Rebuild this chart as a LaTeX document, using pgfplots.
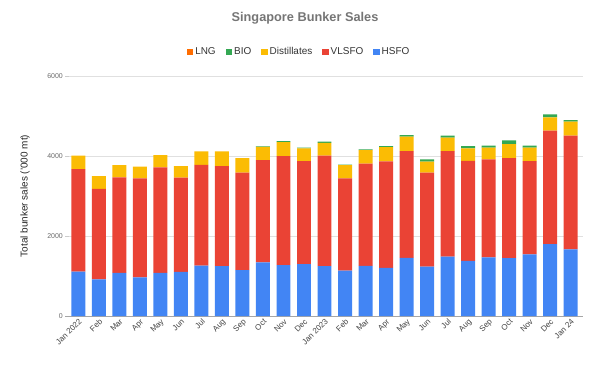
\documentclass[border=0pt]{standalone}
\usepackage{pgfplots}
\pgfplotsset{compat=1.18}
\usepackage{pgfplotstable}
\usepackage{fontspec}
\setmainfont{Liberation Sans}
\definecolor{cHSFO}{HTML}{4285F4}
\definecolor{cVLSFO}{HTML}{EA4335}
\definecolor{cDist}{HTML}{FBBC04}
\definecolor{cBIO}{HTML}{34A853}
\definecolor{cLNG}{HTML}{FF6D01}
\definecolor{ctitle}{HTML}{757575}
\definecolor{ctick}{HTML}{444444}

\pgfplotstableread{
x HSFO VLSFO Dist BIO LNG
0 1110 2560 340 0 0
1 915 2265 320 0 0
2 1080 2387 308 0 0
3 965 2475 293 0 0
4 1080 2637 308 0 0
5 1105 2353 292 0 0
6 1258 2522 335 0 0
7 1250 2500 365 0 0
8 1150 2433 367 0 0
9 1340 2560 330 8 0
10 1275 2725 350 20 0
11 1300 2575 315 20 0
12 1250 2758 322 28 0
13 1135 2307 328 13 0
14 1255 2555 340 17 0
15 1205 2660 355 30 0
16 1455 2670 358 42 0
17 1233 2350 275 59 0
18 1483 2642 333 50 0
19 1380 2500 312 58 0
20 1467 2450 291 50 0
21 1450 2500 350 92 0
22 1540 2330 338 50 0
23 1800 2833 334 75 0
24 1665 2843 350 42 0
}\data

\begin{document}
\begin{tikzpicture}[x=1bp,y=1bp]
\useasboundingbox (0,0) rectangle (605,374);
\node[font=\bfseries\fontsize{12.8}{15}\selectfont, text=ctitle] at (305,356) {Singapore Bunker Sales};
\begin{axis}[
  at={(65bp,58bp)}, anchor=south west,
  width=518bp, height=240bp, scale only axis,
  ybar stacked, bar width=0.68,
  xmin=-0.65, xmax=24.6, ymin=0, ymax=6000,
  ytick={0,2000,4000,6000},
  xtick={0,...,24},
  xticklabels={Jan 2022,Feb,Mar,Apr,May,Jun,Jul,Aug,Sep,Oct,Nov,Dec,Jan 2023,Feb,Mar,Apr,May,Jun,Jul,Aug,Sep,Oct,Nov,Dec,Jan 24},
  ymajorgrids, grid style={draw=black!12, line width=0.6bp},
  axis x line*=bottom, axis y line*=left,
  y axis line style={draw=none},
  x axis line style={draw=black!35, line width=0.8bp},
  xtick style={draw=none},
  ytick style={draw=black!20}, major tick length=4bp,
  /pgf/number format/assume math mode=true,
  /pgf/number format/1000 sep={},
  yticklabel style={font=\fontsize{7}{8}\selectfont, text=ctick!80, inner sep=2bp},
  xticklabel style={font=\fontsize{8}{9}\selectfont, text=ctick, rotate=45, anchor=north east, inner sep=1.5bp},
  ylabel={Total bunker sales ('000 mt)},
  ylabel style={at={(axis description cs:-0.077,0.5)}, anchor=center, font=\fontsize{10}{12}\selectfont, text=black!85},
  reverse legend,
  legend columns=5,
  legend style={at={(axis description cs:0.452,1.1)}, anchor=center, draw=none, fill=none,
    font=\fontsize{10}{11}\selectfont, text=black!80,
    /tikz/every even column/.append style={column sep=8bp}},
  legend image code/.code={\fill[#1] (0bp,-3.2bp) rectangle (6.4bp,3.2bp);},
]
\addplot[fill=cHSFO, draw=none] table[x=x, y=HSFO] {\data};
\addlegendentry{HSFO}
\addplot[fill=cVLSFO, draw=none] table[x=x, y=VLSFO] {\data};
\addlegendentry{VLSFO}
\addplot[fill=cDist, draw=none] table[x=x, y=Dist] {\data};
\addlegendentry{Distillates}
\addplot[fill=cBIO, draw=none] table[x=x, y=BIO] {\data};
\addlegendentry{BIO}
\addplot[fill=cLNG, draw=none] table[x=x, y=LNG] {\data};
\addlegendentry{LNG}
\end{axis}
\end{tikzpicture}
\end{document}
